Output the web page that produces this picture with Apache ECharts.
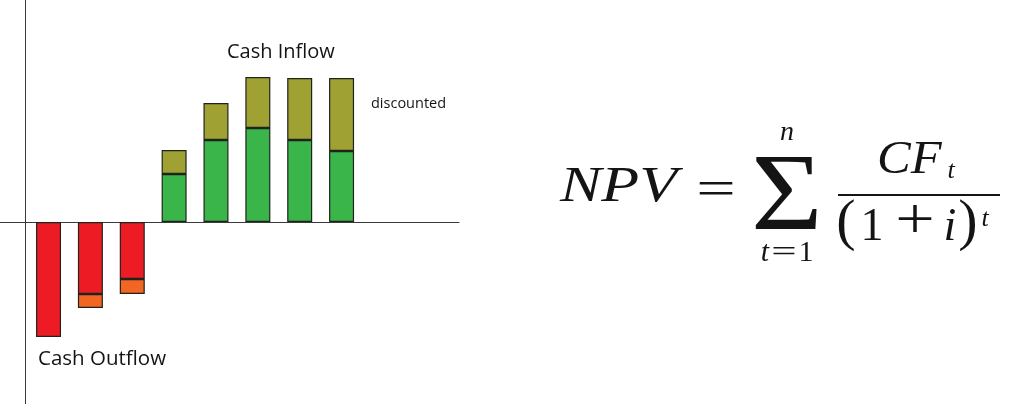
<!DOCTYPE html>
<html>
<head>
<meta charset="utf-8">
<script src="https://cdn.jsdelivr.net/npm/echarts@6/dist/echarts.min.js"></script>
<style>
html,body{margin:0;padding:0;background:#fff;}
#chart{width:1024px;height:404px;}
</style>
</head>
<body>
<div id="chart"></div>
<script>
// Periods (t), period 0 is the initial investment
const periods = ['0', '1', '2', '3', '4', '5', '6', '7'];
// Cash outflow: present value part (red) and the part lost by discounting (orange)
const outflowPV       = [-115, -72, -57, null, null, null, null, null];
const outflowDiscount = [null, -14, -15, null, null, null, null, null];
// Cash inflow: present value part (green) and the part lost by discounting (olive)
const inflowPV        = [null, null, null, 48, 82, 94, 82, 71];
const inflowDiscount  = [null, null, null, 24, 37, 51, 62, 73];

const labels = { inflow: 'Cash Inflow', outflow: 'Cash Outflow', discounted: 'discounted' };

const chart = echarts.init(document.getElementById('chart'), null, { renderer: 'canvas' });

const border = { borderColor: '#1e241c', borderWidth: 1.2 };
function barSeries(name, arr, color) {
  return {
    name, type: 'bar', stack: 'cf', data: arr, barWidth: 25,
    xAxisIndex: 0, yAxisIndex: 0,
    itemStyle: Object.assign({ color }, border),
    emphasis: { disabled: true }, silent: true
  };
}

function txt(text, x, y, size, o) {
  o = o || {};
  return {
    type: 'text', x, y,
    scaleX: o.sx || 1, scaleY: o.sy || 1,
    silent: true,
    style: {
      text,
      fontSize: size,
      fontFamily: o.family || '"Liberation Serif", serif',
      fontStyle: o.italic ? 'italic' : 'normal',
      fill: o.fill || '#141414',
      align: o.align || 'left', textAlign: o.align || 'left',
      verticalAlign: 'middle', textVerticalAlign: 'middle'
    }
  };
}

const sans = '"Open Sans", sans-serif';
const hidden = { axisLine: { show: false }, axisTick: { show: false }, axisLabel: { show: false }, splitLine: { show: false } };
const axisLineStyle = { color: '#3a3a3a', width: 1 };

const option = {
  animation: false,
  backgroundColor: '#ffffff',
  grid: [
    { left: 27.6, right: 661.5, top: 0, bottom: 0, containLabel: false },
    { left: 0, right: 565, top: 0, bottom: 0, containLabel: false }
  ],
  xAxis: [
    Object.assign({ type: 'category', data: periods, gridIndex: 0 }, hidden),
    {
      type: 'value', gridIndex: 1, min: 0, max: 1,
      axisLine: { show: true, onZero: true, lineStyle: axisLineStyle },
      axisTick: { show: false }, axisLabel: { show: false }, splitLine: { show: false }
    }
  ],
  yAxis: [
    Object.assign({ type: 'value', gridIndex: 0, min: -182, max: 222 }, hidden),
    {
      type: 'value', gridIndex: 1, min: -182, max: 222, position: 'left', offset: -25,
      axisLine: { show: true, onZero: false, lineStyle: axisLineStyle },
      axisTick: { show: false }, axisLabel: { show: false }, splitLine: { show: false }
    }
  ],
  series: [
    barSeries('Outflow (present value)', outflowPV, '#ed1c24'),
    barSeries('Outflow (discount)', outflowDiscount, '#f26522'),
    barSeries('Inflow (present value)', inflowPV, '#39b54a'),
    barSeries('Inflow (discount)', inflowDiscount, '#9fa232')
  ],
  graphic: [
    txt(labels.inflow, 227, 52, 20, { family: sans }),
    txt(labels.discounted, 371, 104, 14.5, { family: sans }),
    txt(labels.outflow, 38, 359, 20.5, { family: sans }),
    // NPV formula
    txt('NPV', 560, 188, 50, { italic: true, sx: 1.24 }),
    txt('=', 716, 192, 50, { align: 'center', sx: 1.4 }),
    txt('\u03A3', 751, 200, 110, { sx: 1.12 }),
    txt('n', 787, 132.5, 28, { italic: true, align: 'center' }),
    txt('t', 765, 253, 30, { italic: true, align: 'center' }),
    txt('=', 784, 253, 30, { align: 'center', sx: 1.5 }),
    txt('1', 806, 253, 30, { align: 'center' }),
    txt('CF', 877, 161, 46, { italic: true, sx: 1.1 }),
    txt('t', 951, 171, 26, { italic: true, align: 'center' }),
    { type: 'line', silent: true, shape: { x1: 838, y1: 195, x2: 1000, y2: 195 }, style: { stroke: '#141414', lineWidth: 2 } },
    txt('(', 846, 224, 58, { align: 'center' }),
    txt('1', 872, 228, 46, { align: 'center' }),
    txt('+', 915, 223, 56, { align: 'center', sx: 1.25 }),
    txt('i', 950, 228, 46, { italic: true, align: 'center' }),
    txt(')', 968, 224, 58, { align: 'center' }),
    txt('t', 985, 219, 26, { italic: true, align: 'center' })
  ]
};
chart.setOption(option);
</script>
</body>
</html>
